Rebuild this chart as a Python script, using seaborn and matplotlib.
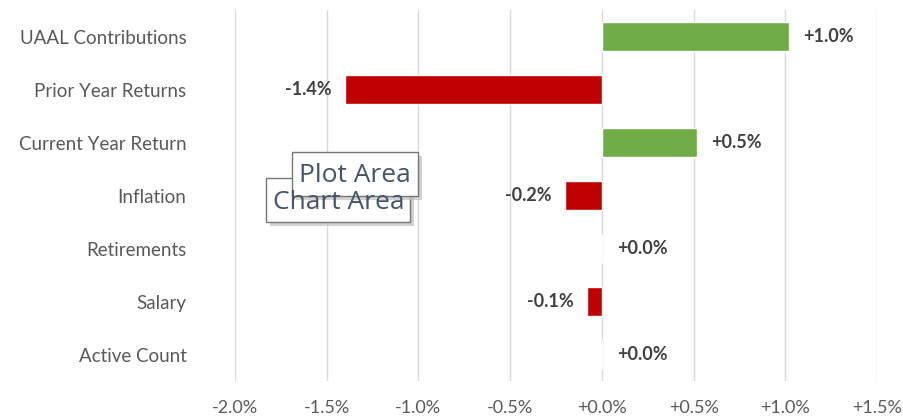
import matplotlib
matplotlib.use("Agg")
import matplotlib.pyplot as plt
from matplotlib.patches import Rectangle
import seaborn as sns
import numpy as np
import pandas as pd

categories = ["UAAL Contributions", "Prior Year Returns", "Current Year Return",
              "Inflation", "Retirements", "Salary", "Active Count"]
values = [1.02, -1.40, 0.52, -0.20, 0.0, -0.08, 0.0]   # percent
xticks = [-2.0, -1.5, -1.0, -0.5, 0.0, 0.5, 1.0, 1.5]

df = pd.DataFrame({"cat": categories, "val": values})
df["sign"] = np.where(df["val"] >= 0, "pos", "neg")

sns.set_style("white")
plt.rcParams["font.family"] = ["Lato", "DejaVu Sans"]

W, H = 904, 420
fig = plt.figure(figsize=(W / 100, H / 100), dpi=100)
ax = fig.add_axes([235 / W, 1 - 381 / H, (877 - 235) / W, (381 - 10) / H])

sns.barplot(data=df, x="val", y="cat", hue="sign",
            palette={"pos": "#70AD47", "neg": "#C00000"}, saturation=1,
            dodge=False, width=0.55, legend=False, ax=ax, orient="h")

ax.set_xlim(-2.0, 1.5)
ax.set_xticks(xticks)
ax.set_xticklabels([f"{t:+.1f}%" for t in xticks])
ax.set_xlabel("")
ax.set_ylabel("")
ax.grid(axis="x", color="#d9d9d9", lw=1)
ax.set_axisbelow(True)
for s in ax.spines.values():
    s.set_visible(False)
ax.tick_params(axis="x", length=0, pad=14, labelsize=13, labelcolor="#595959")
ax.tick_params(axis="y", length=0, pad=35, labelsize=13.5, labelcolor="#595959")

# data labels
for i, v in enumerate(values):
    lab = f"{round(v, 1):+.1f}%"
    if v > 0:
        ax.annotate(lab, (v, i), xytext=(10, 0), textcoords="offset points",
                    ha="left", va="center", fontsize=13, fontweight="bold", color="#404040")
    elif v < 0:
        ax.annotate(lab, (v, i), xytext=(-10, 0), textcoords="offset points",
                    ha="right", va="center", fontsize=13, fontweight="bold", color="#404040")
    else:
        ax.annotate(lab, (v, i), xytext=(11, 0), textcoords="offset points",
                    ha="left", va="center", fontsize=13, fontweight="bold", color="#404040")

# Excel hover tooltips
def tip(x0, y0, x1, y1, text, tx, ty):
    fig.add_artist(Rectangle(((x0 + 4) / W, 1 - (y1 + 4) / H), (x1 - x0) / W, (y1 - y0) / H,
                             transform=fig.transFigure, fc="#bfbfbf", ec="none", alpha=0.7))
    fig.add_artist(Rectangle((x0 / W, 1 - y1 / H), (x1 - x0) / W, (y1 - y0) / H,
                             transform=fig.transFigure, fc="white", ec="#767676", lw=1))
    fig.text(tx / W, 1 - ty / H, text, fontsize=19, color="#44546A", ha="left", va="center",
             family=["Open Sans", "DejaVu Sans"])

tip(266, 178, 410, 222, "Chart Area", 273, 202)
tip(292, 152, 418, 196, "Plot Area", 299, 175)

fig.savefig("out.png", dpi=100)
